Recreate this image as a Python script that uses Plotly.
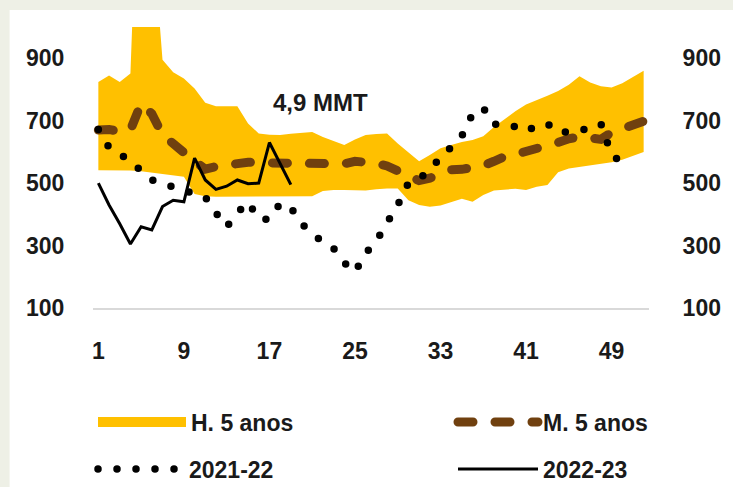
import plotly.graph_objects as go

weeks = list(range(1, 53))
tick_weeks = [1, 9, 17, 25, 33, 41, 49]
y_ticks = [100, 300, 500, 700, 900]

band_upper = [824, 845, 824, 851, 1780, 1350, 895, 855, 835, 803, 757, 746, 746, 746, 691, 659,
              655, 654, 658, 662, 664, 648, 635, 622, 640, 654, 657, 659, 627, 598, 570, 590,
              612, 622, 632, 638, 650, 680, 705, 730, 752, 765, 780, 795, 815, 842, 822, 810,
              806, 820, 840, 860]
band_lower = [541, 541, 541, 540, 538, 534, 530, 526, 520, 465, 458, 456, 456, 456, 456, 456,
              456, 456, 456, 456, 458, 475, 478, 478, 478, 476, 480, 483, 483, 445, 430, 424,
              428, 440, 450, 440, 462, 476, 480, 482, 478, 488, 494, 535, 547, 552, 558, 563,
              567, 575, 588, 600]
mean_5y = [670, 672, 665, 670, 755, 722, 655, 622, 598, 570, 545, 553, 558, 565, 567, 565,
           565, 566, 567, 568, 565, 563, 562, 562, 570, 568, 563, 555, 540, 522, 508, 516,
           530, 543, 544, 548, 556, 570, 585, 592, 600, 608, 615, 630, 642, 648, 645, 640,
           662, 675, 690, 698]
s2021_22 = [672, 614, 595, 570, 540, 510, 498, 490, 480, 465, 455, 405, 360, 405, 440, 385,
            384, 435, 422, 370, 342, 310, 291, 245, 215, 275, 315, 370, 430, 500, 512, 545,
            580, 615, 651, 722, 741, 688, 690, 680, 665, 685, 690, 662, 665, 666, 680, 690,
            590, 565, 560]
s2022_23 = [500, 430, 370, 305, 360, 350, 425, 445, 440, 580, 510, 480, 490, 510, 498, 500,
            630, 560, 495]

GOLD = "#FFC000"
BROWN = "#70400F"
FONT = "Liberation Sans, Arial, sans-serif"
TXT = "#1a1a1a"

fig = go.Figure()
fig.add_trace(go.Scatter(x=weeks, y=band_lower, mode="lines", line=dict(width=0),
                         showlegend=False, hoverinfo="skip"))
fig.add_trace(go.Scatter(x=weeks, y=band_upper, mode="lines", line=dict(width=0),
                         fill="tonexty", fillcolor=GOLD, showlegend=False, name="H. 5 anos"))
# legend entry for the band
fig.add_trace(go.Scatter(x=[None], y=[None], mode="lines", line=dict(color=GOLD, width=19),
                         name="H. 5 anos", legend="legend"))
fig.add_trace(go.Scatter(x=weeks, y=mean_5y, mode="lines", name="M. 5 anos",
                         line=dict(color=BROWN, width=9, dash="15px,22px"), legend="legend2"))
fig.add_trace(go.Scatter(x=weeks[:len(s2021_22)], y=s2021_22, mode="lines", name="2021-22",
                         line=dict(color="black", width=7.5, dash="0px,19px"), legend="legend3"))
fig.add_trace(go.Scatter(x=weeks[:len(s2022_23)], y=s2022_23, mode="lines", name="2022-23",
                         line=dict(color="black", width=3), legend="legend4"))
fig.add_trace(go.Scatter(x=[None], y=[None], yaxis="y2", showlegend=False, hoverinfo="skip"))

fig.add_annotation(x=21.8, y=757, xref="x", yref="y", text="4,9 MMT", showarrow=False,
                   font=dict(size=24, color=TXT, family=FONT, weight="bold"))

fig.add_shape(type="rect", xref="paper", yref="paper", x0=-0.150, x1=1.2, y0=-0.7, y1=1.0605,
              fillcolor="white", line=dict(width=0), layer="below")

tickfont = dict(size=23, color=TXT, family=FONT, weight="bold")
legfont = dict(size=23, color=TXT, family=FONT, weight="bold")


def leg(xpx, ypx, iw):
    return dict(orientation="h", xref="container", yref="container", x=(xpx - 5) / 733,
                y=1 - ypx / 487, xanchor="left", yanchor="middle", itemwidth=iw,
                font=legfont, bgcolor="rgba(0,0,0,0)")


fig.update_layout(
    width=733, height=487,
    margin=dict(l=93, r=74, t=27, b=179),
    paper_bgcolor="#eef0e6", plot_bgcolor="white",
    xaxis=dict(range=[0.5, 52.5], tickvals=tick_weeks, ticktext=[str(t) for t in tick_weeks],
               showgrid=False, zeroline=False, showline=True, linecolor="#D9D9D9", linewidth=2,
               ticks="outside", ticklen=21, tickcolor="rgba(0,0,0,0)", tickfont=tickfont),
    yaxis=dict(range=[100, 1000], tickvals=y_ticks, showgrid=False, zeroline=False,
               showline=False, ticks="outside", ticklen=23, tickcolor="rgba(0,0,0,0)",
               tickfont=tickfont),
    yaxis2=dict(range=[100, 1000], tickvals=y_ticks, overlaying="y", side="right",
                showgrid=False, zeroline=False, showline=False, ticks="outside", ticklen=28,
                tickcolor="rgba(0,0,0,0)", tickfont=tickfont),
    legend=leg(98, 422, 88),
    legend2=leg(458, 422, 80),
    legend3=leg(98, 469, 86),
    legend4=leg(458, 469, 80),
    showlegend=True,
)

css = ("path.js-line[style*='stroke-dasharray: 0px'],"
       "path.js-line[style*='stroke-dasharray: 15px']{stroke-linecap:round;}")
post = ("var s=document.createElement('style');s.textContent=\"" + css + "\";"
        "document.head.appendChild(s);")

fig.write_html("out.html", post_script=post)
